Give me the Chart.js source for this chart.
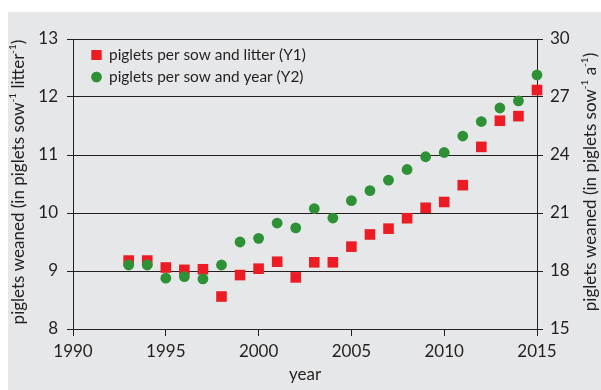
<!DOCTYPE html>
<html>
<head>
<meta charset="utf-8">
<script src="https://cdn.jsdelivr.net/npm/chart.js@4/dist/chart.umd.min.js"></script>
<style>
  html, body { margin: 0; padding: 0; background: #ffffff; }
  #wrap { width: 601px; height: 390px; }
</style>
</head>
<body>
<div id="wrap"><canvas id="c" width="601" height="390"></canvas></div>
<script>
// Piglets weaned per sow, 1993–2015
const years = [1993, 1994, 1995, 1996, 1997, 1998, 1999, 2000, 2001, 2002, 2003, 2004,
               2005, 2006, 2007, 2008, 2009, 2010, 2011, 2012, 2013, 2014, 2015];
const perSowLitter = [9.18, 9.18, 9.06, 9.02, 9.03, 8.56, 8.93, 9.04, 9.16, 8.89, 9.15, 9.15,
                      9.42, 9.63, 9.73, 9.91, 10.09, 10.19, 10.48, 11.14, 11.59, 11.67, 12.12];
const perSowYear = [18.31, 18.31, 17.63, 17.71, 17.59, 18.31, 19.50, 19.69, 20.48, 20.23, 21.23, 20.74,
                    21.64, 22.16, 22.70, 23.25, 23.91, 24.13, 24.98, 25.73, 26.43, 26.80, 28.14];

const yearTicks = [1990, 1995, 2000, 2005, 2010, 2015];
const leftTicks = [8, 9, 10, 11, 12, 13];
const rightTicks = [15, 18, 21, 24, 27, 30];

const seriesLabels = ['piglets per sow and litter (Y1)', 'piglets per sow and year (Y2)'];
const xTitle = 'year';
const leftTitle = [['piglets weaned (in piglets sow', 0], ['-1', 1], [' litter', 0], ['-1', 1], [')', 0]];
const rightTitle = [['piglets weaned (in piglets sow', 0], ['-1', 1], [' a', 0], ['-1', 1], [')', 0]];

const FONT = 'Lato, "Open Sans", sans-serif';
const INK = '#231f20';
const RED = '#ed1c24';
const GREEN = '#2f9136';

const panel = {
  id: 'panel',
  beforeDraw(chart) {
    const ctx = chart.ctx;
    ctx.save();
    ctx.fillStyle = '#e6e7e8';
    ctx.fillRect(8, 12, chart.width - 8, chart.height - 12);
    ctx.restore();
  }
};

// Rotated axis title with small raised exponents
function drawRich(ctx, parts, cx, cy, size) {
  const big = size + 'px ' + FONT;
  const small = Math.round(size * 0.6) + 'px ' + FONT;
  let w = 0;
  parts.forEach(([t, sup]) => { ctx.font = sup ? small : big; w += ctx.measureText(t).width; });
  ctx.save();
  ctx.translate(cx, cy);
  ctx.rotate(-Math.PI / 2);
  ctx.fillStyle = INK;
  ctx.textBaseline = 'middle';
  ctx.textAlign = 'left';
  let x = -w / 2;
  parts.forEach(([t, sup]) => {
    ctx.font = sup ? small : big;
    ctx.fillText(t, x, sup ? -size * 0.35 : 0);
    x += ctx.measureText(t).width;
  });
  ctx.restore();
}

const titles = {
  id: 'titles',
  afterDraw(chart) {
    const a = chart.chartArea;
    const cy = (a.top + a.bottom) / 2 - 2;
    drawRich(chart.ctx, leftTitle, 19, cy, 17);
    drawRich(chart.ctx, rightTitle, 591, cy, 17);
  }
};

// Key drawn inside the plot, top left
const keyBox = {
  id: 'keyBox',
  afterDatasetsDraw(chart) {
    const ctx = chart.ctx;
    const a = chart.chartArea;
    ctx.save();
    chart.data.datasets.forEach((ds, i) => {
      const x = a.left + 23.5;
      const y = a.top + 16 + i * 22;
      ctx.fillStyle = ds.backgroundColor;
      ctx.strokeStyle = ds.backgroundColor;
      ctx.lineWidth = 0;
      Chart.helpers.drawPoint(ctx, { pointStyle: ds.pointStyle, radius: ds.legendRadius, rotation: 0, borderWidth: 0 }, x, y);
      ctx.fill();
      ctx.fillStyle = INK;
      ctx.font = '15.4px ' + FONT;
      ctx.textBaseline = 'middle';
      ctx.textAlign = 'left';
      ctx.fillText(ds.label, a.left + 36, y);
    });
    ctx.restore();
  }
};

new Chart(document.getElementById('c'), {
  type: 'scatter',
  data: {
    datasets: [
      {
        label: seriesLabels[0],
        data: years.map((x, i) => ({ x, y: perSowLitter[i] })),
        yAxisID: 'y',
        pointStyle: 'rect',
        pointRadius: 7.5,
        legendRadius: 7,
        backgroundColor: RED,
        borderWidth: 0,
        clip: false,
        order: 1
      },
      {
        label: seriesLabels[1],
        data: years.map((x, i) => ({ x, y: perSowYear[i] })),
        yAxisID: 'y2',
        pointStyle: 'circle',
        pointRadius: 5.4,
        legendRadius: 5.2,
        backgroundColor: GREEN,
        borderWidth: 0,
        clip: false,
        order: 0
      }
    ]
  },
  options: {
    responsive: false,
    animation: false,
    devicePixelRatio: 1,
    layout: { padding: { top: 39, left: 0, right: 0, bottom: 0 } },
    plugins: { legend: { display: false }, tooltip: { enabled: false } },
    scales: {
      x: {
        type: 'linear',
        position: 'bottom',
        min: 1990, max: 2015,
        afterBuildTicks: s => { s.ticks = yearTicks.map(v => ({ value: v })); },
        afterFit: s => { s.height = 61; },
        grid: { drawOnChartArea: false, drawTicks: true, tickLength: 7, color: INK, lineWidth: 1 },
        border: { display: true, color: INK, width: 1 },
        ticks: { color: INK, font: { family: FONT, size: 17 }, padding: 5, maxRotation: 0, callback: v => String(v) },
        title: { display: true, text: xTitle, color: INK, font: { family: FONT, size: 17 }, padding: { top: 0, bottom: 5 } }
      },
      y: {
        type: 'linear',
        position: 'left',
        min: 8, max: 13,
        afterBuildTicks: s => { s.ticks = leftTicks.map(v => ({ value: v })); },
        afterFit: s => { s.width = 73; },
        grid: { drawOnChartArea: true, drawTicks: true, tickLength: 6, color: INK, lineWidth: 1 },
        border: { display: true, color: INK, width: 1 },
        ticks: { color: INK, font: { family: FONT, size: 17 }, padding: 9 }
      },
      y2: {
        type: 'linear',
        position: 'right',
        min: 15, max: 30,
        afterBuildTicks: s => { s.ticks = rightTicks.map(v => ({ value: v })); },
        afterFit: s => { s.width = 64; },
        grid: { drawOnChartArea: false, drawTicks: true, tickLength: 6, color: INK, lineWidth: 1 },
        border: { display: true, color: INK, width: 1 },
        ticks: { color: INK, font: { family: FONT, size: 17 }, padding: 7 }
      }
    }
  },
  plugins: [panel, keyBox, titles]
});
</script>
</body>
</html>
